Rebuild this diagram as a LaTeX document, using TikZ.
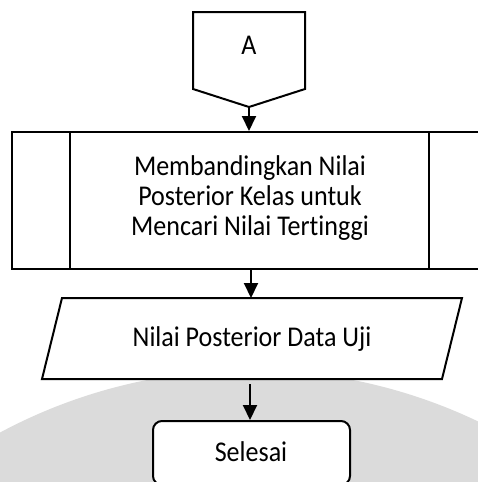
\documentclass[tikz,border=0pt]{standalone}
\usepackage{fontspec}
\setmainfont{Carlito}[FakeStretch=0.91, Ligatures=NoCommon]
\usetikzlibrary{arrows.meta}
\begin{document}
\begin{tikzpicture}[x=1pt,y=-1pt,
  line width=2pt,
  txt/.style={font=\fontsize{28.6}{30}\selectfont, align=center, inner sep=0pt},
  conn/.style={-{Triangle[width=14pt,length=15pt]}, line width=2pt},
  procbox/.style={draw, minimum width=475pt, minimum height=137pt, inner sep=0pt},
  termbox/.style={draw, rounded corners=9pt, minimum width=197pt, minimum height=64pt, fill=white}]
\useasboundingbox (0,0) rectangle (478,482);
\fill[white] (0,0) rectangle (478,482);
\fill[black!14] (250,900) circle (530);
% off-page connector A
\coordinate (a1) at (193,12);
\coordinate (a2) at (305,12);
\coordinate (a3) at (305,89);
\coordinate (Atip) at (249,107);
\coordinate (a5) at (193,89);
\draw[fill=white, line join=miter] (a1) -- (a2) -- (a3) -- (Atip) -- (a5) -- cycle;
\node[txt] (A) at (249,45) {A};
% predefined process
\node[procbox, fill=white] (proc) at (249.5,200.5) {};
\draw ([xshift=59pt]proc.north west) -- ([xshift=59pt]proc.south west);
\draw ([xshift=-59pt]proc.north east) -- ([xshift=-59pt]proc.south east);
\node[txt] (proctext) at (250,198) {Membandingkan Nilai\\Posterior Kelas untuk\\Mencari Nilai Tertinggi};
% data (parallelogram)
\coordinate (p1) at (62,298);
\coordinate (p2) at (462,298);
\coordinate (p3) at (442,379);
\coordinate (p4) at (42,379);
\draw[fill=white, line join=miter] (p1) -- (p2) -- (p3) -- (p4) -- cycle;
\coordinate (ioTop) at (251,298);
\coordinate (ioOut) at (250,384);
\node[txt] (io) at (252,339) {Nilai Posterior Data Uji};
% terminator
\node[termbox] (end) at (251.5,453) {};
\node[txt] (endtext) at (251,452) {Selesai};
% connectors
\draw[conn] (Atip) -- (Atip |- proc.north);
\draw[conn] (proc.south -| ioTop) -- (ioTop);
\draw[conn] (ioOut) -- (ioOut |- end.north);
\end{tikzpicture}
\end{document}
